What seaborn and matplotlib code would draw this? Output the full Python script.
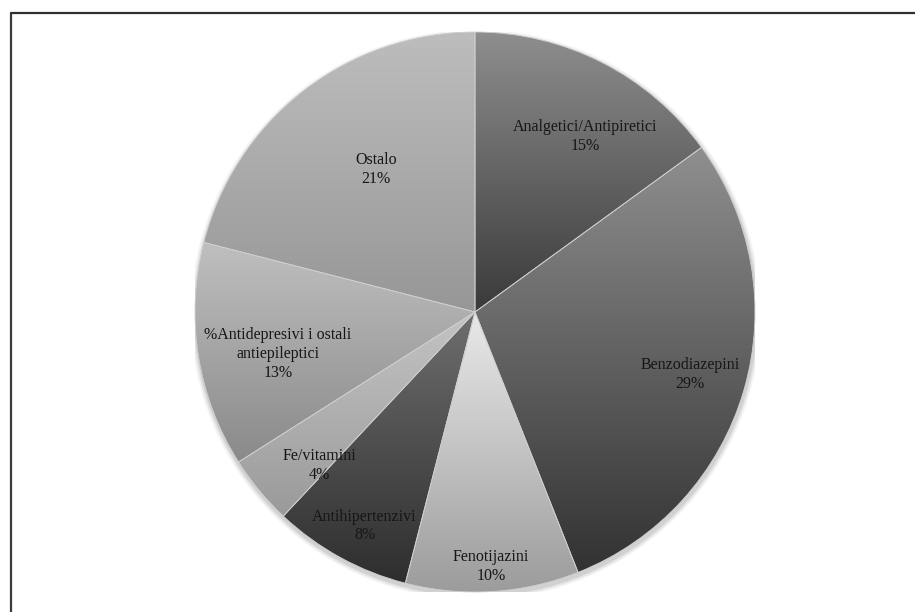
import numpy as np
import matplotlib
matplotlib.use("Agg")
import matplotlib.pyplot as plt
from matplotlib.colors import LinearSegmentedColormap
from matplotlib.lines import Line2D
from matplotlib.patches import Circle
import seaborn as sns

# Drug groups and their shares (percent)
categories = [
    "Analgetici/Antipiretici",
    "Benzodiazepini",
    "Fenotijazini",
    "Antihipertenzivi",
    "Fe/vitamini",
    "%Antidepresivi i ostali\nantiepileptici",
    "Ostalo",
]
shares = [15, 29, 10, 8, 4, 13, 21]

# Vertical gradient fill of each slice: (top shade, bottom shade)
shade_top = ["#8e8e8e", "#8f8f8f", "#e9e9e9", "#6e6e6e", "#c4c4c4", "#bfbfbf", "#bdbdbd"]
shade_bottom = ["#3a3a3a", "#323232", "#9c9c9c", "#2e2e2e", "#9a9a9a", "#8a8a8a", "#979797"]

# Label placement: radial distance (fraction of radius) and angular nudge (deg)
label_radius = [0.74, 0.80, 0.91, 0.86, 0.78, 0.72, 0.62]
label_nudge = [-5, 0, 0, 1.5, 5, 3, -3]

sns.set_theme(style="white")
plt.rcParams["font.family"] = ["Liberation Serif", "DejaVu Serif"]

W, H = 915, 612
fig = plt.figure(figsize=(W / 100, H / 100), dpi=100)
fig.patch.set_facecolor("white")

cx, cy, R = 475, 312, 280
ax = fig.add_axes([(cx - R) / W, (H - cy - R) / H, 2 * R / W, 2 * R / H])
ax.set_xlim(-1, 1)
ax.set_ylim(-1, 1)
ax.set_aspect("equal")
ax.axis("off")

# soft drop shadow under the pie
for k, a in zip([0.018, 0.012, 0.006], [0.08, 0.12, 0.18]):
    ax.add_patch(Circle((0.003, -0.010), 1 + k, color="#7a7a7a", alpha=a, lw=0, zorder=0))

wedges, _ = ax.pie(
    shares,
    startangle=90,
    counterclock=False,
    radius=1,
    colors=shade_top,
    wedgeprops=dict(edgecolor="#cfcfcf", linewidth=0.6),
)

grad = np.linspace(0, 1, 256).reshape(-1, 1)
for w, c1, c2 in zip(wedges, shade_top, shade_bottom):
    ext = w.get_path().get_extents()
    cmap = LinearSegmentedColormap.from_list("g", [c1, c2])
    im = ax.imshow(
        grad,
        cmap=cmap,
        aspect="auto",
        extent=[ext.x0, ext.x1, ext.y0, ext.y1],
        origin="upper",
        zorder=w.get_zorder() + 0.1,
        interpolation="bilinear",
    )
    im.set_clip_path(w)
    w.set_facecolor("none")
    w.set_zorder(w.get_zorder() + 0.2)

ax.set_xlim(-1, 1)
ax.set_ylim(-1, 1)

for w, name, val, r, nd in zip(wedges, categories, shares, label_radius, label_nudge):
    mid = np.deg2rad((w.theta1 + w.theta2) / 2 + nd)
    ax.text(
        r * np.cos(mid),
        r * np.sin(mid),
        f"{name}\n{val}%",
        ha="center",
        va="center",
        fontsize=11.5,
        color="#161616",
        linespacing=1.22,
        zorder=5,
    )

# frame lines along the top and left edge
fig.add_artist(Line2D([11 / W, 1.0], [1 - 13 / H, 1 - 13 / H], color="#2e2e2e", lw=1.6,
                      transform=fig.transFigure))
fig.add_artist(Line2D([11 / W, 11 / W], [0.0, 1 - 13 / H], color="#3a3a3a", lw=1.6,
                      transform=fig.transFigure))

fig.savefig("out.png", dpi=100, facecolor="white")
